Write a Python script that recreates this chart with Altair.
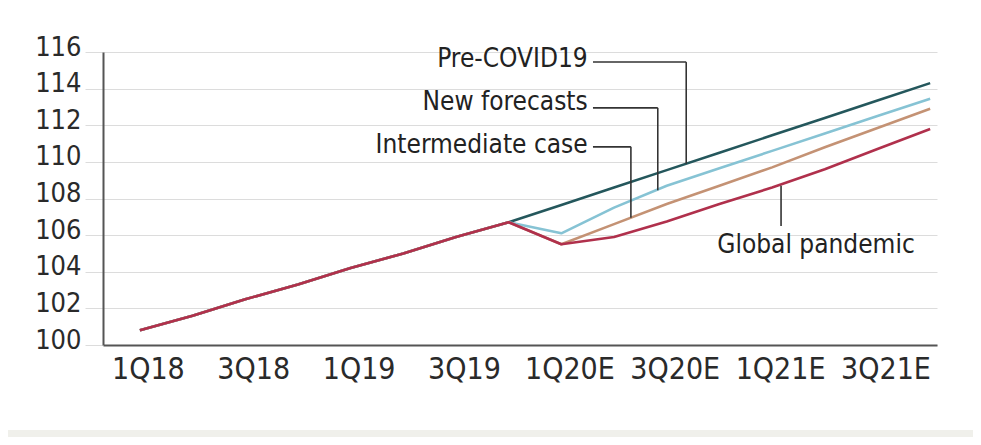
import json
import altair as alt
import pandas as pd

quarters = ["1Q18", "2Q18", "3Q18", "4Q18", "1Q19", "2Q19", "3Q19", "4Q19",
            "1Q20E", "2Q20E", "3Q20E", "4Q20E", "1Q21E", "2Q21E", "3Q21E", "4Q21E"]
history = [100.8, 101.6, 102.5, 103.3, 104.2, 105.0, 105.9, 106.7]
pre_covid = [107.65, 108.6, 109.55, 110.5, 111.45, 112.4, 113.35, 114.3]
new_forecasts = [106.1, 107.5, 108.7, 109.65, 110.6, 111.55, 112.5, 113.45]
intermediate = [105.5, 106.6, 107.7, 108.7, 109.7, 110.8, 111.85, 112.9]
pandemic = [105.5, 105.9, 106.75, 107.7, 108.6, 109.6, 110.7, 111.8]

series_names = ["Pre-COVID19", "New forecasts", "Intermediate case", "Global pandemic"]
series_values = [pre_covid, new_forecasts, intermediate, pandemic]
series_colors = ["#24575c", "#86c3d4", "#c49274", "#b0304c"]

y_ticks = [100, 102, 104, 106, 108, 110, 112, 114, 116]
x_tick_idx = [0, 2, 4, 6, 8, 10, 12, 14]

rows = []
for order, (name, vals) in enumerate(zip(series_names, series_values)):
    for i, v in enumerate(history + vals):
        rows.append({"series": name, "idx": i, "value": v, "order": order})
df = pd.DataFrame(rows)

# annotation labels (data space)
ann_text = ["Pre-COVID19", "New forecasts", "Intermediate case"]
ann_text_x = [8.5, 8.5, 8.5]
ann_text_y = [115.2, 112.82, 110.47]
ann_elbow_x = [10.37, 9.83, 9.32]
ann_line_y = [115.45, 112.95, 110.82]
ann_end_y = [109.9, 108.45, 106.95]
ann_start_x = [8.6, 8.6, 8.6]

pand_text = "Global pandemic"
pand_text_x = 10.96
pand_text_y = 105.02
pand_line_x = 12.17
pand_line_y = [108.7, 106.5]

FONT = "Liberation Sans Narrow, DejaVu Sans Condensed, sans-serif"

xscale = alt.Scale(domain=[-0.70, 15.13], nice=False, zero=False)
yscale = alt.Scale(domain=[100, 116], nice=False, zero=False)

label_expr = json.dumps(quarters) + "[datum.value]"

xaxis = alt.Axis(values=x_tick_idx, labelExpr=label_expr,
                 title=None, grid=False, ticks=False, domain=True,
                 domainColor="#555555", domainWidth=2,
                 labelFont=FONT, labelFontSize=30, labelColor="#2a2a2a",
                 labelPadding=9, labelOverlap=False, labelOffset=8)
yaxis = alt.Axis(values=y_ticks, title=None,
                 grid=True, gridColor="#dcdcdc", gridWidth=1,
                 ticks=True, tickSize=18, tickColor="#dcdcdc",
                 domain=True, domainColor="#555555", domainWidth=2,
                 labelFont=FONT, labelFontSize=27, labelColor="#2a2a2a",
                 labelPadding=4, labelBaseline="middle", labelOffset=-5,
                 labelOverlap=False, labelFlush=False)


def X(f):
    return alt.X(f, scale=xscale, axis=xaxis)


def Y(f):
    return alt.Y(f, scale=yscale, axis=yaxis)


lines = alt.Chart(df).mark_line(strokeWidth=2.6, strokeJoin="round").encode(
    x=X("idx:Q"),
    y=Y("value:Q"),
    color=alt.Color("series:N", scale=alt.Scale(domain=series_names, range=series_colors),
                    legend=None),
    order=alt.Order("order:Q"),
    detail="series:N",
)

ann_df = pd.DataFrame({
    "text": ann_text, "tx": ann_text_x, "ty": ann_text_y,
    "sx": ann_start_x, "ex": ann_elbow_x, "ly": ann_line_y, "ey": ann_end_y,
})

ann_h = alt.Chart(ann_df).mark_rule(color="#333333", strokeWidth=1.6).encode(
    x=X("sx:Q"), x2="ex:Q", y=Y("ly:Q"))
ann_v = alt.Chart(ann_df).mark_rule(color="#333333", strokeWidth=1.6).encode(
    x=X("ex:Q"), y=Y("ly:Q"), y2="ey:Q")
ann_t = alt.Chart(ann_df).mark_text(align="right", baseline="alphabetic", font=FONT,
                                     fontSize=26, color="#222222").encode(
    x=X("tx:Q"), y=Y("ty:Q"), text="text:N")

pand_df = pd.DataFrame({"text": [pand_text], "tx": [pand_text_x], "ty": [pand_text_y],
                        "lx": [pand_line_x], "y1": [pand_line_y[0]], "y2": [pand_line_y[1]]})
pand_v = alt.Chart(pand_df).mark_rule(color="#333333", strokeWidth=1.6).encode(
    x=X("lx:Q"), y=Y("y1:Q"), y2="y2:Q")
pand_t = alt.Chart(pand_df).mark_text(align="left", baseline="alphabetic", font=FONT,
                                      fontSize=26, color="#222222").encode(
    x=X("tx:Q"), y=Y("ty:Q"), text="text:N")

band = alt.Chart(pd.DataFrame({"a": [0]})).mark_rect(color="#f0f0eb").encode(
    x=alt.value(-103), x2=alt.value(880), y=alt.value(378), y2=alt.value(386))

chart = alt.layer(band, lines, ann_h, ann_v, ann_t, pand_v, pand_t).properties(
    width=834, height=293,
    background="white",
    autosize=alt.AutoSizeParams(type="none"),
    padding={"left": 95, "top": 44, "right": 36, "bottom": 92},
).configure_view(stroke=None)

chart.save("out.html", embed_options={"renderer": "svg", "actions": False})
